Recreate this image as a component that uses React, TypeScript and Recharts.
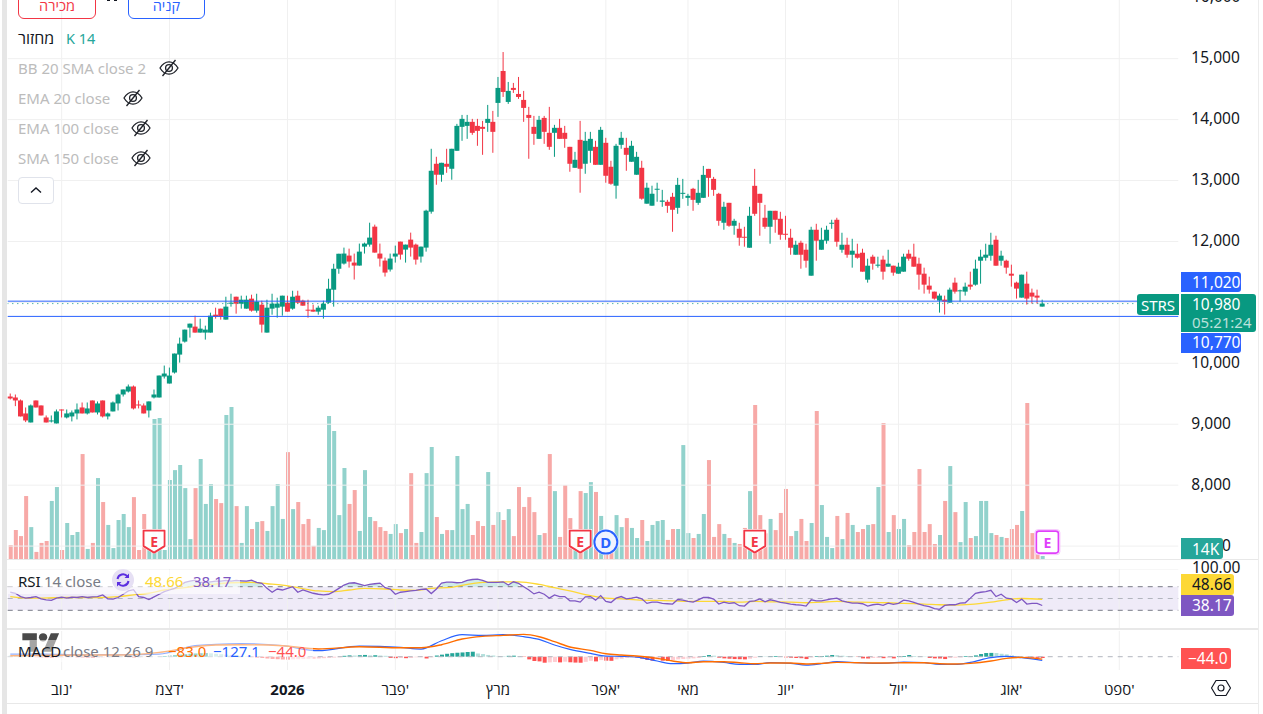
import React from "react";
import { ComposedChart, Bar, Line, Area, XAxis, YAxis, ReferenceLine, ReferenceArea, ReferenceDot, Cell } from "recharts";

const opens = [9455,9439,9390,9177,9029,9390,9308,9111,9050,9013,9242,9111,9128,9177,9275,9177,9390,9193,9390,9128,9210,9341,9488,9537,9619,9324,9308,9226,9439,9439,9783,9668,9849,10143,10356,10585,10602,10504,10504,10504,10798,10897,10717,10985,11093,10979,10897,11061,10864,10962,10504,10897,10913,10930,10995,10897,11110,11028,10880,10880,10848,10880,10995,11208,11552,
11637,11768,11653,11604,11915,11948,12243,11801,11686,11539,11752,11997,11866,12030,11948,11752,11899,12489,13275,13095,13275,13193,13488,13881,13897,13963,13897,13881,13946,13963,14274,14798,14290,14520,14421,14323,14077,13881,13684,14028,13783,13783,13865,13783,13553,13209,13668,13275,13488,13553,13258,13619,13226,12915,13586,13537,13308,13095,13209,12620,12587,12849,
12651,12651,12733,12552,12787,12716,12864,12634,12716,13191,13027,12782,12307,12634,12258,12208,12077,11897,12913,12782,12389,12241,12503,12372,12126,12061,11782,11979,11864,11438,12192,11864,12012,12296,12356,11864,11946,11782,11799,11815,11373,11750,11602,11701,11586,11602,11471,11504,11799,11750,11635,11471,11275,11176,11029,11045,10996,11324,11187,11176,11291,11291,11684,11733,11766,12028,11684,11684,11471,11324,11078,11307,11160,11111,10931];
const closes = [9423,9390,9128,9062,9308,9275,9144,9029,9062,9210,9226,9177,9193,9242,9177,9259,9193,9341,9128,9177,9357,9488,9570,9619,9259,9308,9177,9374,9488,9799,9832,9799,10160,10323,10553,10651,10504,10569,10553,10782,10766,10766,10930,10995,10979,11044,11044,10864,11011,10635,10913,10979,10979,11110,10848,11093,10995,10946,10864,10848,10913,10979,11224,11552,11798,
11801,11670,11604,11833,11965,12063,11817,11719,11489,11719,11801,11784,11948,11899,11702,11915,12505,13160,13095,13291,13226,13521,13897,14012,13963,13783,13815,13848,14012,13799,14520,14454,14471,14487,14372,14192,14028,13766,13996,13799,13553,13865,13684,13684,13275,13340,13193,13652,13684,13258,13832,13078,12947,13570,13701,13422,13570,13389,12702,12882,12783,12865,
12672,12585,12520,12929,12798,12749,12683,12798,13093,13044,12847,12339,12569,12258,12339,12061,12066,12421,12454,12634,12241,12503,12356,12110,12115,11897,11946,11782,11684,12192,12012,12028,12192,12307,11995,11946,11782,11848,11733,11504,11602,11635,11619,11504,11635,11488,11586,11750,11717,11586,11455,11291,11209,11062,11111,11012,11209,11176,11198,11258,11258,11553,11750,11783,11946,11602,11766,11570,11438,11226,11455,11062,11095,11078,10980];
const highs = [9504,9488,9406,9275,9324,9390,9308,9144,9144,9242,9242,9242,9226,9341,9357,9357,9390,9374,9390,9193,9374,9504,9570,9652,9636,9390,9341,9374,9570,9799,9963,9930,10160,10422,10553,10651,10782,10733,10618,10831,10913,10897,11093,11142,11093,11110,11110,11126,11142,11028,11044,11142,11077,11110,11110,11191,11191,11044,11044,10962,10946,11028,11388,11634,11798,
11899,11882,11801,11965,11981,12308,12276,11965,11735,11801,11932,11997,11948,12145,11965,11915,12521,13521,13390,13291,13521,13521,13930,14077,14077,14012,14012,13979,14241,14143,14700,15109,14618,14602,14700,14471,14209,14061,14061,14061,14209,13914,14012,13897,13553,13471,13979,13799,13799,13652,13881,13701,13324,13602,13799,13701,13652,13471,13324,12964,12915,12964,
12847,12683,12798,13044,13027,12782,12880,13011,13240,13191,13060,12798,12651,12634,12372,12307,12241,12569,13191,12782,12601,12503,12503,12487,12421,12208,12012,12012,11963,12241,12290,12225,12258,12356,12389,12143,12061,12044,11963,11881,11717,11782,11750,11766,11864,11602,11651,11799,11864,11963,11733,11570,11422,11176,11144,11111,11242,11406,11209,11324,11504,11701,11864,11963,12143,12094,11848,11701,11619,11340,11455,11504,11226,11209,11045];
const lows = [9406,9297,9128,9035,9029,9275,9144,9029,9029,9013,9111,9095,9046,9079,9177,9160,9193,9160,9111,9079,9210,9226,9455,9521,9242,9259,9177,9111,9423,9439,9750,9668,9832,10012,10340,10422,10504,10504,10389,10504,10733,10717,10717,10930,10815,10897,10897,10848,10831,10504,10504,10798,10749,10782,10848,10880,10979,10946,10749,10848,10798,10733,10979,10930,11470,
11620,11571,11375,11604,11801,11915,11817,11588,11424,11506,11653,11702,11653,11752,11620,11653,11833,12456,12931,12980,13127,13013,13488,13652,13684,13750,13570,13422,13799,13455,14045,14372,14258,14438,14340,13963,13357,13586,13684,13602,13504,13389,13684,13537,13144,13209,12800,13111,13291,13258,13258,12964,12931,12702,13521,13160,13308,13095,12685,12620,12587,12652,
12569,12470,12159,12454,12700,12585,12503,12601,12716,12733,12749,12258,12192,12241,12110,11930,11914,11897,12421,12094,12208,11963,12143,12028,12028,11782,11782,11553,11570,11438,11684,11864,11963,12208,11914,11815,11733,11570,11717,11504,11324,11537,11570,11373,11586,11438,11471,11504,11684,11586,11209,11144,11144,11045,10832,10800,10996,11144,11012,11111,11209,11275,11307,11684,11684,11602,11602,11471,11258,11062,11078,10964,10980,10980,10931];
const volumes = [65,135,107,294,149,33,75,84,271,336,42,168,112,126,490,47,75,378,266,159,51,182,210,149,289,42,210,89,654,658,42,369,415,439,331,93,331,467,257,350,280,261,672,710,247,75,247,140,173,177,131,247,350,187,499,233,266,163,187,61,145,135,668,598,205,425,257,322,131,415,196,177,149,131,117,163,121,140,401,75,126,401,523,196,117,135,135,481,233,257,112,177,154,406,159,219,182,233,107,336,243,289,219,112,121,490,317,103,345,191,135,317,308,359,313,201,47,42,205,149,191,145,98,182,84,159,177,182,89,140,140,532,121,98,117,210,462,103,163,117,98,75,70,145,317,719,205,120,187,135,215,327,107,131,187,84,168,691,252,103,51,201,93,215,159,126,140,159,163,336,635,126,205,140,187,65,126,420,126,163,70,112,271,434,219,79,266,98,107,271,271,121,112,103,98,140,159,224,728,121,31,14];
const rsiValues = [60.6,58.9,53.3,50.6,51.7,53.3,49.4,47.8,46.7,50.6,52.2,50.6,52.2,51.7,53.3,51.7,52.8,53.3,56.1,49.4,48.9,51.7,57.2,62.8,65,53.3,51.7,48.3,52.8,57.2,61.7,64.4,67.2,71.7,77.2,79.4,81.1,77.2,77.2,78.3,79.4,79.4,80.6,79.4,80.6,80,79.4,81.1,77.2,75.6,67.2,60.6,66.1,64.4,67.2,70,60.6,64.4,61.7,58.9,57.2,56.1,57.2,61.7,67.2,72.8,76.1,76.7,74.4,71.7,73.9,75,76.1,68.3,66.1,57.2,60.6,61.7,62.8,63.9,65.6,66.1,58.3,66.1,76.1,77.8,77.8,76.7,77.2,80.6,82.2,82.8,80.6,77.2,77.2,77.2,78.3,72.8,78.3,75.5,
70,64.4,57.8,60.6,57.2,50.6,56.1,53.3,53.3,46.1,46.1,43.9,52.8,53.3,47.2,55,45,43.3,50.6,53.3,49.4,50.6,52.2,49.4,41.7,43.9,43.9,41.7,41.1,40.6,48.3,47.2,45,43.9,47.8,51.7,51.7,48.9,40.6,43.9,41.7,42.8,37.8,37.2,45,46.1,49.4,44.4,47.8,46.1,43.3,42.2,40.6,39.4,38.9,37.2,47.8,46.1,46.1,47.8,49.4,50.6,46.1,43.9,42.2,42.2,41.1,37.2,39.4,40.6,38.3,42.2,40,41.7,47.2,46.1,43.3,40.6,37.8,36.1,32.8,31.7,38.3,39.4,39.4,42.2,42.8,50.6,58.9,60.6,61.7,63.9,53.3,57.2,50.6,49.4,43.3,48.9,40.6,41.7,41.7,38.17];
const rsiMaPoints = [[1,53.3],[5,50.6],[12,51.7],[18,51.7],[22,53.3],[25,56.1],[28,58.9],[31,64.4],[35,68.3],[38,72.8],[41,74.4],[44,76.7],[48,77.2],[51,75],[54,72.8],[57,68.3],[61,62.8],[64,61.7],[67,64.4],[70,67.2],[74,66.1],[77,64.4],[80,63.9],[83,67.2],[87,68.9],[90,73.9],[93,77.2],[96,78.3],[100,78.3],[104,73.9],[107,68.3],[110,62.8],[114,55],[117,50.6],[120,49.4],[123,47.8],[127,46.7],[130,46.1],[133,45],[136,45],[140,45],[143,43.9],[146,45],[149,44.4],[153,43.9],[156,42.8],[159,43.9],[162,45],[166,43.9],[169,43.3],[172,42.8],[175,41.7],[179,40.6],[182,39.4],[185,38.9],[188,40],[192,43.9],[195,47.8],[198,50],[202,48.66]];
const macdPoints = [[1,91],[7,91],[15,68],[22,68],[30,91],[37,374],[41,419],[46,442],[54,374],[61,204],[69,363],[77,317],[81,261],[85,544],[89,748],[93,725],[97,748],[101,680],[104,589],[107,397],[110,249],[114,113],[117,23],[120,11],[123,-11],[127,-147],[130,-238],[133,-215],[136,-147],[140,-193],[143,-261],[146,-261],[149,-204],[153,-227],[156,-283],[159,-238],[162,-170],[166,-204],[169,-227],[172,-215],[175,-181],[179,-204],[182,-261],[185,-261],[188,-193],[192,-34],[195,11],[198,-34],[202,-127.1]];
const signalPoints = [[1,34],[7,45],[15,57],[22,57],[30,147],[37,340],[41,397],[46,408],[54,374],[61,261],[69,340],[77,306],[81,306],[85,408],[89,600],[93,691],[97,725],[101,759],[104,680],[107,510],[110,329],[114,215],[117,102],[120,57],[123,23],[127,-57],[130,-147],[133,-204],[136,-170],[140,-170],[143,-204],[146,-238],[149,-215],[153,-215],[156,-249],[159,-227],[162,-193],[166,-204],[169,-215],[172,-215],[175,-204],[179,-204],[182,-238],[185,-249],[188,-227],[192,-147],[195,-57],[198,-23],[202,-83]];
const histValues = [40,30,20,10,-10,-15,-20,-30,-35,-30,-25,-20,-15,-20,-25,-30,-35,-30,-25,-20,-15,-10,-8,-15,-25,-20,-15,-10,-5,10,25,40,55,70,85,100,110,120,125,115,100,85,70,55,40,25,10,-15,-30,-45,-60,-75,-85,-95,-100,-90,-85,-80,-75,-70,-60,-50,-40,-30,-20,30,45,40,50,60,45,50,40,30,-40,-50,-45,-50,-45,-20,-15,-60,-20,40,70,100,120,135,145,160,170,110,90,60,40,20,15,30,35,15,-10,
-91,-147,-159,-204,-193,-181,-193,-170,-190,-200,-205,-175,-140,-160,-115,-135,-140,-90,-70,-45,-15,-25,-68,-113,-136,-91,-136,-147,-113,-91,-80,-70,-57,-45,23,57,34,-34,-57,-68,-80,-85,-91,-68,-34,23,11,23,25,11,-23,-34,-45,-50,-80,-23,23,25,34,57,50,34,23,11,-11,-57,-60,-45,-40,-50,-34,-57,23,25,57,23,11,10,-45,-57,-60,-80,-45,-34,-23,23,25,45,91,125,130,125,100,80,45,23,11,-30,-35,-40,-44];

const gridPrices = [7000, 8000, 9000, 10000, 11000, 12000, 13000, 14000, 15000];
const priceTicks = [7000, 8000, 9000, 10000, 12000, 13000, 14000, 15000];
const monthIndexes = [11, 32, 55, 76, 96, 117, 133, 152, 174, 196, 217];
const monthLabels = ["נוב'", "דצמ'", "2026", "פבר'", "מרץ", "אפר'", "מאי", "יונ'", "יול'", "אוג'", "ספט'"];
const eventMarks = [
  { i: 29, kind: "E", color: "#f23645" },
  { i: 112, kind: "E", color: "#f23645" },
  { i: 117, kind: "D", color: "#2962ff" },
  { i: 146, kind: "E", color: "#f23645" },
  { i: 203, kind: "F", color: "#e040fb" },
];

const UP = "#089981";
const DOWN = "#f23645";
const GRID = "#f0f0f0";
const FONT = "'Noto Sans','Open Sans','DejaVu Sans',sans-serif";
const SLOTS = 228;
const W = 1263;
const PLOT_L = 7.73;
const AXIS_W = 84.7;

const lookup = (pts: number[][]) => new Map(pts.map((p) => [p[0], p[1]]));
const maMap = lookup(rsiMaPoints);
const macdMap = lookup(macdPoints);
const sigMap = lookup(signalPoints);

const rows = Array.from({ length: SLOTS }, (_, k) => {
  const i = k + 1;
  if (k >= opens.length) return { i };
  const rsi = rsiValues[k];
  const h = histValues[k];
  const prev = k > 0 ? histValues[k - 1] : h;
  return {
    i,
    o: opens[k],
    c: closes[k],
    h: highs[k],
    l: lows[k],
    range: [lows[k], highs[k]],
    up: closes[k] >= opens[k],
    vol: volumes[k],
    rsi,
    over: rsi > 70 ? [70, rsi] : null,
    ma: maMap.get(i) ?? null,
    macd: macdMap.get(i) ?? null,
    signal: sigMap.get(i) ?? null,
    hist: h,
    histColor: h >= 0 ? (h > prev ? "#26a69a" : "#b2dfdb") : h > prev ? "#ffcdd2" : "#ff5252",
  };
});

const Candle = (props: any) => {
  const { x, y, width, height, payload } = props;
  if (!payload || payload.h == null) return <g />;
  const top = Math.min(y, y + height);
  const full = Math.abs(height);
  const perUnit = payload.h > payload.l ? full / (payload.h - payload.l) : 0;
  const at = (v: number) => top + (payload.h - v) * perUnit;
  const color = payload.up ? UP : DOWN;
  const bt = at(Math.max(payload.o, payload.c));
  const bb = at(Math.min(payload.o, payload.c));
  const cx = x + width / 2;
  return (
    <g>
      <rect x={cx - 0.5} y={top} width={1} height={full} fill={color} />
      <rect x={x} y={bt} width={width} height={Math.max(bb - bt, 1)} fill={color} />
    </g>
  );
};

const Marker = (props: any) => {
  const { cx, cy, mark } = props;
  if (mark.kind === "D") {
    return (
      <g transform={`translate(${cx},${cy})`}>
        <circle r={13} fill="#fff" opacity={0.8} />
        <circle r={11.5} fill="#eef2ff" fillOpacity={0.9} stroke={mark.color} strokeWidth={2} />
        <text y={5.5} textAnchor="middle" fontSize={15} fontWeight={700} fill={mark.color} fontFamily={FONT}>D</text>
      </g>
    );
  }
  if (mark.kind === "F") {
    return (
      <g transform={`translate(${cx},${cy})`}>
        <rect x={-12.5} y={-12.5} width={25} height={25} rx={3} fill="#fff" stroke="#f6c5fd" strokeWidth={1} />
        <rect x={-11} y={-11} width={22} height={22} rx={2.5} fill="#fff" stroke={mark.color} strokeWidth={1.6} />
        <text y={5.5} textAnchor="middle" fontSize={14} fontWeight={700} fill={mark.color} fontFamily={FONT}>E</text>
      </g>
    );
  }
  return (
    <g transform={`translate(${cx},${cy})`}>
      <path d="M-12 -13 H12 V5 L0 12 L-12 5 Z" fill="#fff" opacity={0.85} />
      <path d="M-10.5 -11.5 H10.5 V4 L0 10.5 L-10.5 4 Z" fill="#fff" fillOpacity={0.75} stroke={mark.color} strokeWidth={1.8} strokeLinejoin="round" />
      <text y={5} textAnchor="middle" fontSize={14} fontWeight={700} fill={mark.color} fontFamily={FONT}>E</text>
    </g>
  );
};

const MonthTick = (props: any) => {
  const { x, y, payload } = props;
  const label = monthLabels[monthIndexes.indexOf(payload.value)];
  return (
    <text x={x} y={y + 17} textAnchor="middle" fontSize={15} fontFamily={FONT} fill="#131722" fontWeight={label === "2026" ? 700 : 400}>
      {label}
    </text>
  );
};

const EyeOff = ({ x, y }: { x: number; y: number }) => (
  <svg style={{ position: "absolute", left: x - 10, top: y - 9 }} width={20} height={18} viewBox="0 0 20 18" fill="none" stroke="#1f2229" strokeWidth={1.3}>
    <path d="M1 9 C4 4 7 2.8 10 2.8 C13 2.8 16 4 19 9 C16 14 13 15.2 10 15.2 C7 15.2 4 14 1 9 Z" />
    <circle cx={10} cy={9} r={3.4} />
    <line x1={3.5} y1={17} x2={16.5} y2={1} />
  </svg>
);

const Txt = ({ x, y, w, color, size, bold, align, children }: any) => (
  <div style={{ position: "absolute", left: x, top: y - 12, width: w, height: 24, lineHeight: "24px", color, fontSize: size ?? 15, fontWeight: bold ? 700 : 400, textAlign: align ?? "left", whiteSpace: "nowrap" }}>
    {children}
  </div>
);

const Box = ({ x, y, w, h, bg, radius }: any) => (
  <div style={{ position: "absolute", left: x, top: y, width: w, height: h, background: bg, borderRadius: radius ?? "0 3px 3px 0" }} />
);

const Line1 = ({ x, y, w, h, bg }: any) => <div style={{ position: "absolute", left: x, top: y, width: w, height: h, background: bg }} />;

const hiddenX = <XAxis dataKey="i" type="category" scale="band" hide allowDuplicatedCategory={false} />;

export default function App() {
  return (
    <div style={{ position: "absolute", left: 0, top: 0, width: W, height: 714, overflow: "hidden", background: "#fff", fontFamily: FONT, color: "#131722" }}>
      {/* volume & grid layer */}
      <div style={{ position: "absolute", left: 0, top: 0 }}>
        <ComposedChart width={W} height={559} data={rows} margin={{ top: 0, bottom: 0, left: PLOT_L, right: AXIS_W }}>
          {hiddenX}
          <YAxis yAxisId="price" hide type="number" domain={[6788, 15963]} allowDataOverflow />
          <YAxis yAxisId="vol" hide type="number" domain={[0, 2610]} allowDataOverflow />
          {gridPrices.map((t) => <ReferenceLine key={t} yAxisId="price" y={t} stroke={GRID} />)}
          {monthIndexes.map((m) => <ReferenceLine key={m} yAxisId="price" x={m} stroke={GRID} />)}
          <Bar yAxisId="vol" dataKey="vol" barSize={4} isAnimationActive={false}>
            {rows.map((r: any) => <Cell key={r.i} fill={r.up ? "rgba(38,166,154,0.5)" : "rgba(239,83,80,0.5)"} />)}
          </Bar>
        </ComposedChart>
      </div>
      {/* candle layer */}
      <div style={{ position: "absolute", left: 0, top: 0 }}>
        <ComposedChart width={W} height={559} data={rows} margin={{ top: 0, bottom: 0, left: PLOT_L, right: 0 }}>
          {hiddenX}
          <YAxis
            orientation="right"
            width={AXIS_W}
            type="number"
            domain={[6788, 15963]}
            allowDataOverflow
            ticks={priceTicks}
            tickLine={false}
            axisLine={false}
            tickMargin={7}
            interval={0}
            tick={{ fontSize: 15.5, fill: "#131722", fontFamily: FONT, dy: -1 }}
            tickFormatter={(v: number) => v.toLocaleString("en-US")}
          />
          <ReferenceLine y={11020} stroke="#2962ff" strokeWidth={1} />
          <ReferenceLine y={10770} stroke="#2962ff" strokeWidth={1} />
          <ReferenceLine y={10980} stroke={UP} strokeWidth={1} strokeDasharray="1 4" />
          <Bar dataKey="range" barSize={5} shape={Candle} isAnimationActive={false} />
          {eventMarks.map((m) => (
            <ReferenceDot key={m.i} x={m.i} y={7065} r={1} shape={(p: any) => <Marker {...p} mark={m} />} />
          ))}
        </ComposedChart>
      </div>
      {/* RSI pane */}
      <div style={{ position: "absolute", left: 0, top: 569 }}>
        <ComposedChart width={W} height={59} data={rows} margin={{ top: 0, bottom: 0, left: PLOT_L, right: AXIS_W }}>
          {hiddenX}
          <YAxis hide type="number" domain={[0, 100]} allowDataOverflow />
          {monthIndexes.map((m) => <ReferenceLine key={m} x={m} stroke={GRID} />)}
          <ReferenceArea y1={30} y2={70} fill="#7e57c2" fillOpacity={0.12} stroke="none" />
          <ReferenceLine y={100} stroke={GRID} />
          <ReferenceLine y={70} stroke="#787b86" strokeDasharray="5 5" />
          <ReferenceLine y={50} stroke="#b2b5be" strokeDasharray="5 5" />
          <ReferenceLine y={30} stroke="#787b86" strokeDasharray="5 5" />
          <Bar dataKey="none" barSize={1} isAnimationActive={false} />
          <Area dataKey="over" stroke="none" fill="#26a69a" fillOpacity={0.22} connectNulls={false} isAnimationActive={false} dot={false} activeDot={false} />
          <Line dataKey="ma" stroke="#fdd835" strokeWidth={1.3} dot={false} activeDot={false} connectNulls type="monotone" isAnimationActive={false} />
          <Line dataKey="rsi" stroke="#7e57c2" strokeWidth={1.3} dot={false} activeDot={false} type="linear" isAnimationActive={false} />
        </ComposedChart>
      </div>
      {/* MACD pane + time axis */}
      <div style={{ position: "absolute", left: 0, top: 631 }}>
        <ComposedChart width={W} height={72} data={rows} margin={{ top: 0, bottom: 0, left: PLOT_L, right: AXIS_W }}>
          <XAxis
            dataKey="i"
            type="category"
            scale="band"
            height={33}
            ticks={monthIndexes}
            interval={0}
            axisLine={false}
            tickLine={false}
            tick={MonthTick}
          />
          <YAxis hide type="number" domain={[-452, 874]} allowDataOverflow />
          {monthIndexes.map((m) => <ReferenceLine key={m} x={m} stroke={GRID} />)}
          <ReferenceLine y={0} stroke="#b2b5be" strokeDasharray="5 5" />
          <Bar dataKey="hist" barSize={4} isAnimationActive={false}>
            {rows.map((r: any) => <Cell key={r.i} fill={r.histColor ?? "transparent"} />)}
          </Bar>
          <Line dataKey="macd" stroke="#2962ff" strokeWidth={1.2} dot={false} activeDot={false} connectNulls type="monotone" isAnimationActive={false} />
          <Line dataKey="signal" stroke="#ff6d00" strokeWidth={1.4} dot={false} activeDot={false} connectNulls type="monotone" isAnimationActive={false} />
        </ComposedChart>
      </div>

      {/* frame */}
      <Line1 x={2} y={0} w={5} h={714} bg="#e6e6e6" />
      <Line1 x={7} y={559} w={1251} h={1} bg="#e8e8e8" />
      <Line1 x={7} y={628} w={1251} h={2} bg="#e8e8e8" />
      <Line1 x={7} y={703} w={1251} h={1} bg="#e8e8e8" />
      <Line1 x={1258} y={0} w={1} h={714} bg="#ececec" />

      {/* top buttons */}
      <div style={{ position: "absolute", left: 18, top: -14, width: 76, height: 31, border: "1px solid #f23645", borderRadius: 6, textAlign: "center", color: "#f23645", fontSize: 14.5, lineHeight: "37px" }}>מכירה</div>
      <div style={{ position: "absolute", left: 128, top: -14, width: 75, height: 31, border: "1px solid #2962ff", borderRadius: 6, textAlign: "center", color: "#2962ff", fontSize: 14.5, lineHeight: "37px" }}>קניה</div>
      <Line1 x={107} y={0} w={3} h={1} bg="#131722" />
      <Line1 x={114} y={0} w={3} h={1} bg="#131722" />

      {/* legend */}
      <Txt x={18} y={38} color="#131722" size={16}>מחזור</Txt>
      <Txt x={66} y={38} color="#26a69a" size={14.5}>K 14</Txt>
      <Txt x={18} y={68} color="#bcbcbc">BB 20 SMA close 2</Txt>
      <EyeOff x={169} y={68} />
      <Txt x={18} y={98} color="#bcbcbc">EMA 20 close</Txt>
      <EyeOff x={133} y={98} />
      <Txt x={18} y={128} color="#bcbcbc">EMA 100 close</Txt>
      <EyeOff x={141} y={128} />
      <Txt x={18} y={158} color="#bcbcbc">SMA 150 close</Txt>
      <EyeOff x={141} y={158} />
      <div style={{ position: "absolute", left: 18, top: 177, width: 34, height: 25, border: "1px solid #e0e3eb", borderRadius: 4, background: "#fff" }}>
        <svg width={34} height={25} style={{ position: "absolute", left: 0, top: 0 }}>
          <polyline points="12,14.5 17,10 22,14.5" fill="none" stroke="#131722" strokeWidth={1.4} />
        </svg>
      </div>

      {/* RSI legend */}
      <div style={{ position: "absolute", left: 8, top: 570, width: 232, height: 24, background: "rgba(255,255,255,0.62)" }} />
      <Txt x={18} y={581} color="#131722">RSI</Txt>
      <Txt x={44} y={581} color="#787b86">14 close</Txt>
      <svg style={{ position: "absolute", left: 112, top: 569 }} width={22} height={22} viewBox="0 0 22 22">
        <circle cx={11} cy={11} r={11} fill="#e6e0f4" />
        <path d="M5.5 10 A5.6 5.6 0 0 1 15.5 7.5 M16.5 12 A5.6 5.6 0 0 1 6.5 14.5" fill="none" stroke="#5b2ee0" strokeWidth={2} />
        <path d="M17 4.5 V9 H12.5 Z M5 17.5 V13 H9.5 Z" fill="#5b2ee0" />
      </svg>
      <Txt x={145} y={581} color="#fdd835">48.66</Txt>
      <Txt x={193} y={581} color="#7e57c2">38.17</Txt>

      {/* logo + MACD legend */}
      <svg style={{ position: "absolute", left: 22, top: 629 }} width={38} height={29} viewBox="0 0 36 28">
        <path d="M14 22H7V11H0V4h14v18zM28 22h-8l7.5-18h8L28 22z" fill="#4a4a4a" />
        <circle cx={20} cy={8} r={4} fill="#4a4a4a" />
      </svg>
      <div style={{ position: "absolute", left: 8, top: 640, width: 305, height: 22, background: "rgba(255,255,255,0.5)" }} />
      <Txt x={18} y={651} color="#131722">MACD</Txt>
      <Txt x={63} y={651} color="#787b86">close 12 26 9</Txt>
      <Txt x={168} y={651} color="#ff6d00">−83.0</Txt>
      <Txt x={213} y={651} color="#2962ff">−127.1</Txt>
      <Txt x={268} y={651} color="#ff5252">−44.0</Txt>

      {/* price-scale labels & tags */}
      <Txt x={1192} y={-4} color="#131722" size={15.5}>16,000</Txt>
      <Box x={1181} y={272} w={60} h={20} bg="#2962ff" />
      <Box x={1181} y={333} w={60} h={20} bg="#2962ff" />
      <Box x={1181} y={294} w={75} h={38} bg={UP} />
      <Box x={1137} y={294} w={42} h={21} bg={UP} radius="3px 0 0 3px" />
      <Txt x={1192} y={282} color="#fff" size={15.5}>11,020</Txt>
      <Txt x={1192} y={342} color="#fff" size={15.5}>10,770</Txt>
      <Txt x={1192} y={304} color="#fff" size={15.5}>10,980</Txt>
      <Txt x={1192} y={322} color="rgba(255,255,255,0.72)" size={15}>05:21:24</Txt>
      <Txt x={1137} y={305} w={42} color="#fff" size={15} align="center">STRS</Txt>
      <Box x={1181} y={538} w={42} h={21} bg="#26a69a" />
      <Txt x={1192} y={549} color="#fff" size={15.5}>14K</Txt>
      <Txt x={1192} y={567} color="#131722" size={15.5}>100.00</Txt>
      <Box x={1181} y={574} w={53} h={21} bg="#fdd835" />
      <Box x={1181} y={595} w={53} h={21} bg="#7e57c2" />
      <Txt x={1192} y={584} color="#131722" size={15.5}>48.66</Txt>
      <Txt x={1192} y={605} color="#fff" size={15.5}>38.17</Txt>
      <Box x={1181} y={648} w={50} h={21} bg="#ff5252" />
      <Txt x={1188} y={658} color="#fff" size={15.5}>−44.0</Txt>

      <svg style={{ position: "absolute", left: 1211, top: 678 }} width={20} height={20} viewBox="0 0 20 20" fill="none" stroke="#131722" strokeWidth={1.2}>
        <polygon points="5,2.5 15,2.5 19.5,10 15,17.5 5,17.5 0.5,10" />
        <circle cx={10} cy={10} r={3} />
      </svg>
    </div>
  );
}
